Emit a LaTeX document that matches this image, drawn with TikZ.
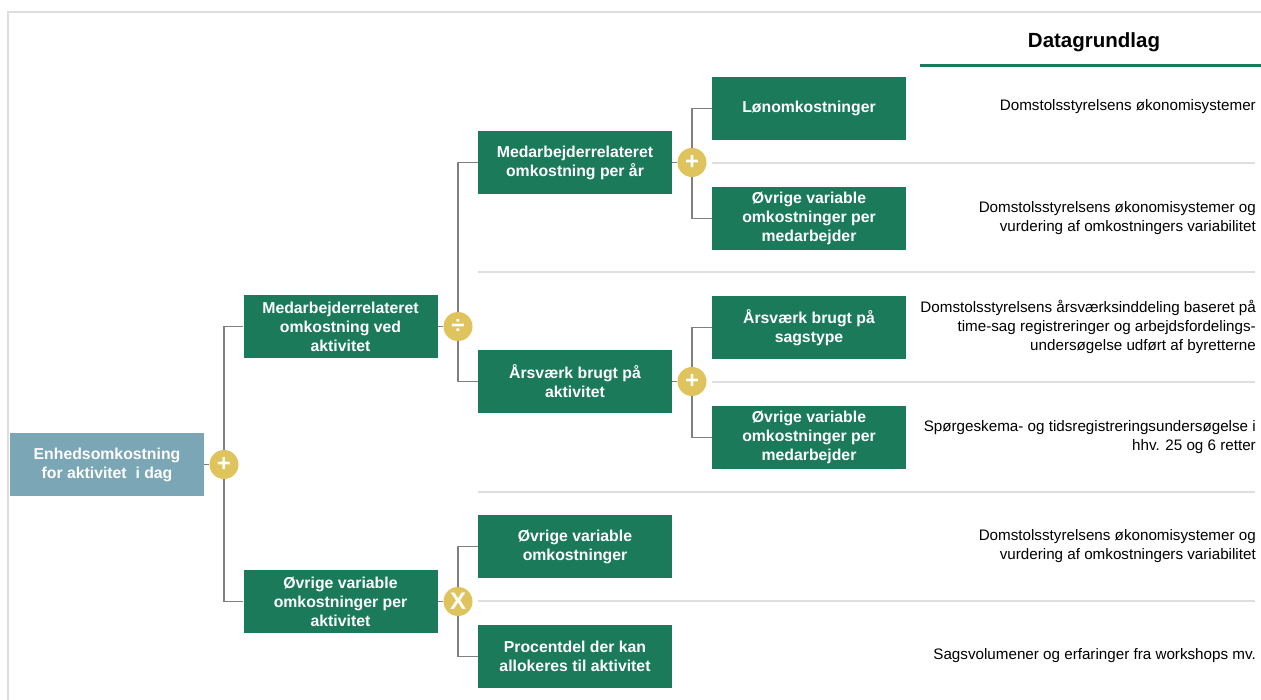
\documentclass[tikz,border=0pt]{standalone}
\usepackage{fontspec}
\setmainfont{Liberation Sans}
\definecolor{boxgreen}{RGB}{26,122,89}
\definecolor{rootblue}{RGB}{122,166,181}
\definecolor{opgold}{RGB}{223,195,92}
\definecolor{conngray}{RGB}{128,128,128}
\definecolor{sepgray}{RGB}{222,222,222}
\begin{document}
\begin{tikzpicture}[x=1pt,y=-1pt,
  box/.style={rectangle,fill=boxgreen,text=white,minimum width=194pt,minimum height=63pt,
    inner sep=2pt,align=center,font=\fontsize{15.8}{19}\selectfont\bfseries},
  rootbox/.style={box,fill=rootblue},
  op/.style={circle,fill=opgold,text=white,minimum size=29pt,inner sep=0pt,
    font=\fontsize{24}{24}\selectfont\bfseries},
  conn/.style={draw=conngray,line width=1.4pt},
  sep/.style={draw=sepgray,line width=1.2pt},
  src/.style={anchor=east,align=right,inner sep=0pt,font=\fontsize{15.2}{19}\selectfont}]
\useasboundingbox (0,0) rectangle (1261,700);
% frame
\draw[draw=sepgray,line width=2pt] (7.5,700) -- (7.5,12) -- (1261,12);
% header
\node[font=\fontsize{20.5}{22}\selectfont\bfseries] (hdr) at (1094,42) {Datagrundlag};
\draw[draw=boxgreen,line width=3pt] (920,66) -- (1261,66);
% separators
\draw[sep] (712,163) -- (1255,163);
\draw[sep] (478,272) -- (1255,272);
\draw[sep] (712,382) -- (1255,382);
\draw[sep] (478,492) -- (1255,492);
\draw[sep] (478,601) -- (1255,601);
% boxes
\node[rootbox] (root) at (107,464.5) {Enhedsomkostning\\for aktivitet\ \ i dag};
\node[box] (l1a) at (340.5,326.5) {Medarbejderrelateret\\omkostning ved\\aktivitet};
\node[box] (l1b) at (340.5,601.5) {Øvrige variable\\omkostninger per\\aktivitet};
\node[box] (l2a) at (575,162.5) {Medarbejderrelateret\\omkostning per år};
\node[box] (l2b) at (575,381.5) {Årsværk brugt på\\aktivitet};
\node[box] (l2c) at (575,546.5) {Øvrige variable\\omkostninger};
\node[box] (l2d) at (575,656.5) {Procentdel der kan\\allokeres til aktivitet};
\node[box] (l3a) at (809,108.5) {Lønomkostninger};
\node[box] (l3b) at (809,218.5) {Øvrige variable\\omkostninger per\\medarbejder};
\node[box] (l3c) at (809,327.5) {Årsværk brugt på\\sagstype};
\node[box] (l3d) at (809,437.5) {Øvrige variable\\omkostninger per\\medarbejder};
% operators
\node[op] (op0) at (224,464.5) {+};
\node[op] (op1) at (458,326.5) {÷};
\node[op] (op2) at (458,601.5) {X};
\node[op] (op3) at (692,162.5) {+};
\node[op] (op4) at (692,381.5) {+};
% connectors
\draw[conn] (root.east) -- (op0);
\draw[conn] (l1a.west) -| (op0);
\draw[conn] (l1b.west) -| (op0);
\draw[conn] (l1a.east) -- (op1);
\draw[conn] (l2a.west) -| (op1);
\draw[conn] (l2b.west) -| (op1);
\draw[conn] (l1b.east) -- (op2);
\draw[conn] (l2c.west) -| (op2);
\draw[conn] (l2d.west) -| (op2);
\draw[conn] (l2a.east) -- (op3);
\draw[conn] (l3a.west) -| (op3);
\draw[conn] (l3b.west) -| (op3);
\draw[conn] (l2b.east) -- (op4);
\draw[conn] (l3c.west) -| (op4);
\draw[conn] (l3d.west) -| (op4);
% sources
\node[src] (s1) at (1256,107) {Domstolsstyrelsens økonomisystemer};
\node[src] (s2) at (1256,218) {Domstolsstyrelsens økonomisystemer og\\vurdering af omkostningers variabilitet};
\node[src] (s3) at (1256,327) {Domstolsstyrelsens årsværksinddeling baseret på\\time-sag registreringer og arbejdsfordelings-\\undersøgelse udført af byretterne};
\node[src] (s4) at (1256,437) {Spørgeskema- og tidsregistreringsundersøgelse i\\hhv. 25 og 6 retter};
\node[src] (s5) at (1256,546) {Domstolsstyrelsens økonomisystemer og\\vurdering af omkostningers variabilitet};
\node[src] (s6) at (1256,656) {Sagsvolumener og erfaringer fra workshops mv.};
\end{tikzpicture}
\end{document}
